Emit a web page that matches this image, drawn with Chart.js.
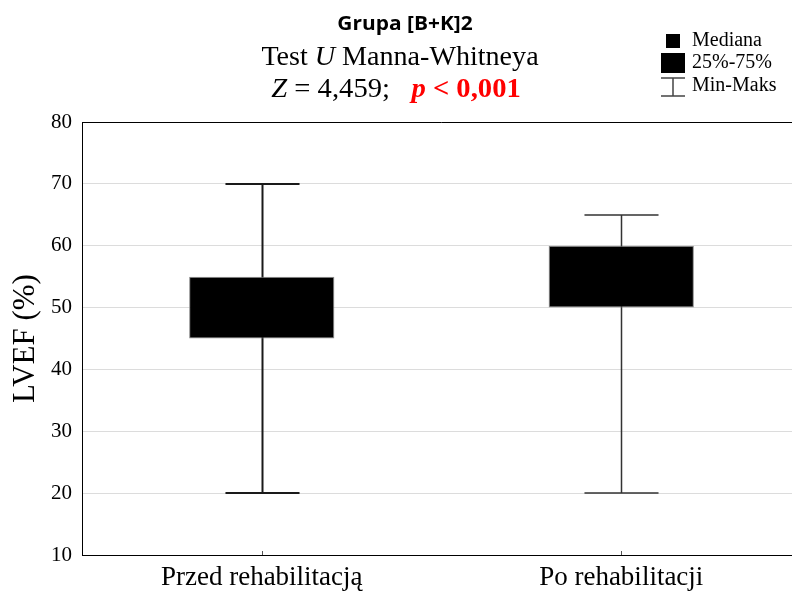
<!DOCTYPE html>
<html>
<head>
<meta charset="utf-8">
<script src="https://cdn.jsdelivr.net/npm/chart.js@4"></script>
<style>
  html, body { margin: 0; padding: 0; background: #fff; }
  #wrap { width: 792px; height: 592px; overflow: hidden; position: relative; }
  canvas { display: block; }
</style>
</head>
<body>
<div id="wrap"><canvas id="c" width="808" height="592"></canvas></div>
<script>
// Group labels and box-plot statistics (LVEF, %)
const categories = ['Przed rehabilitacją', 'Po rehabilitacji'];
const minValues = [20, 20];
const q1Values = [45, 50];
const medianValues = [50, 55];
const q3Values = [55, 60];
const maxValues = [70, 65];
const yTicks = [10, 20, 30, 40, 50, 60, 70, 80];

const SERIF = '"Liberation Serif", "Times New Roman", serif';
const SANS = '"Open Sans", "Liberation Sans", sans-serif';

// Whiskers (min-max) drawn underneath the boxes, plus the plot frame extras
const whiskerPlugin = {
  id: 'whiskers',
  beforeDatasetsDraw(chart) {
    const { ctx, scales: { x, y } } = chart;
    const step = x.getPixelForValue(1) - x.getPixelForValue(0);
    const capHalf = step * 0.103;
    const widths = [2, 1.5];
    const colors = ['#1a1a1a', '#333'];
    ctx.save();
    for (let i = 0; i < categories.length; i++) {
      const cx = Math.round(x.getPixelForValue(i)) + 0.5;
      const yMin = Math.round(y.getPixelForValue(minValues[i]));
      const yMax = Math.round(y.getPixelForValue(maxValues[i]));
      ctx.strokeStyle = colors[i];
      ctx.lineWidth = widths[i];
      ctx.beginPath();
      ctx.moveTo(cx, yMax); ctx.lineTo(cx, yMin);
      ctx.moveTo(cx - capHalf, yMax); ctx.lineTo(cx + capHalf, yMax);
      ctx.moveTo(cx - capHalf, yMin); ctx.lineTo(cx + capHalf, yMin);
      ctx.stroke();
    }
    ctx.restore();
  },
  afterDraw(chart) {
    const { ctx, chartArea: a, scales: { x } } = chart;
    ctx.save();
    // top frame line
    ctx.strokeStyle = '#000';
    ctx.lineWidth = 1;
    ctx.beginPath();
    ctx.moveTo(a.left, a.top + 0.5); ctx.lineTo(a.right, a.top + 0.5);
    ctx.stroke();
    // small inner ticks at category centres
    ctx.strokeStyle = '#555';
    for (let i = 0; i < categories.length; i++) {
      const cx = Math.round(x.getPixelForValue(i)) + 0.5;
      ctx.beginPath();
      ctx.moveTo(cx, a.bottom); ctx.lineTo(cx, a.bottom - 4);
      ctx.stroke();
    }
    ctx.restore();
  }
};

// Multi-style heading lines (optionally widened) and the key in the upper right corner
function drawRuns(ctx, runs, cx, cy, sx) {
  sx = sx || 1;
  let total = 0;
  runs.forEach(r => { ctx.font = r.font; total += ctx.measureText(r.text).width; });
  ctx.save();
  ctx.translate(cx, cy);
  ctx.scale(sx, 1);
  let xPos = -total / 2;
  ctx.textBaseline = 'middle';
  ctx.textAlign = 'left';
  runs.forEach(r => {
    ctx.font = r.font;
    ctx.fillStyle = r.color || '#000';
    ctx.fillText(r.text, xPos, 0);
    xPos += ctx.measureText(r.text).width;
  });
  ctx.restore();
}

const headingPlugin = {
  id: 'heading',
  afterDraw(chart) {
    const ctx = chart.ctx;
    ctx.save();
    drawRuns(ctx, [{ text: 'Grupa [B+K]2', font: 'bold 19px ' + SANS }], 405, 25, 1.1);
    drawRuns(ctx, [
      { text: 'Test ', font: '27px ' + SERIF },
      { text: 'U', font: 'italic 27px ' + SERIF },
      { text: ' Manna-Whitneya', font: '27px ' + SERIF }
    ], 400, 58, 1.04);
    drawRuns(ctx, [
      { text: 'Z', font: 'italic 27px ' + SERIF },
      { text: ' = 4,459;   ', font: '27px ' + SERIF },
      { text: 'p', font: 'italic bold 27px ' + SERIF, color: '#ff0000' },
      { text: ' < 0,001', font: 'bold 27px ' + SERIF, color: '#ff0000' }
    ], 396, 90, 1.06);

    // key
    ctx.fillStyle = '#000';
    ctx.fillRect(666, 34, 14, 14);
    ctx.fillRect(661, 53, 24, 20);
    ctx.strokeStyle = '#444';
    ctx.lineWidth = 1.5;
    ctx.beginPath();
    ctx.moveTo(661, 78); ctx.lineTo(685, 78);
    ctx.moveTo(673, 78); ctx.lineTo(673, 96);
    ctx.moveTo(661, 96); ctx.lineTo(685, 96);
    ctx.stroke();
    ctx.font = '20px ' + SERIF;
    ctx.fillStyle = '#000';
    ctx.textAlign = 'left';
    ctx.textBaseline = 'middle';
    ctx.fillText('Mediana', 692, 41);
    ctx.fillText('25%-75%', 692, 63);
    ctx.fillText('Min-Maks', 692, 86);
    ctx.restore();
  }
};

new Chart(document.getElementById('c'), {
  data: {
    labels: categories,
    datasets: [
      {
        type: 'bar',
        label: '25%-75%',
        data: q1Values.map((v, i) => [v, q3Values[i]]),
        backgroundColor: '#000',
        borderColor: '#8a8a8a',
        borderWidth: 1,
        borderSkipped: false,
        categoryPercentage: 1,
        barPercentage: 0.404,
        order: 2
      },
      {
        type: 'line',
        label: 'Mediana',
        data: medianValues,
        showLine: false,
        pointStyle: 'rect',
        pointRadius: 6,
        backgroundColor: '#000',
        borderColor: '#000',
        order: 1
      }
    ]
  },
  options: {
    responsive: false,
    animation: false,
    devicePixelRatio: 1,
    layout: { padding: { top: 122, left: 0, right: 2, bottom: 0 } },
    plugins: {
      legend: { display: false },
      tooltip: { enabled: false }
    },
    scales: {
      x: {
        type: 'category',
        offset: true,
        grid: { display: false, drawTicks: false },
        border: { display: true, color: '#000', width: 1 },
        ticks: {
          color: '#000',
          padding: 7,
          font: { family: SERIF, size: 27 }
        },
        afterFit(scale) { scale.height = 37; }
      },
      y: {
        min: 10,
        max: 80,
        afterBuildTicks(scale) { scale.ticks = yTicks.map(v => ({ value: v })); },
        grid: { color: '#dcdcdc', drawTicks: false },
        border: { display: true, color: '#000', width: 1 },
        ticks: {
          color: '#000',
          padding: 10,
          font: { family: SERIF, size: 21 }
        },
        title: {
          display: true,
          text: 'LVEF (%)',
          color: '#000',
          padding: { top: 7, bottom: 0 },
          font: { family: SERIF, size: 31 }
        },
        afterFit(scale) { scale.width = 82; }
      }
    }
  },
  plugins: [whiskerPlugin, headingPlugin]
});
</script>
</body>
</html>
